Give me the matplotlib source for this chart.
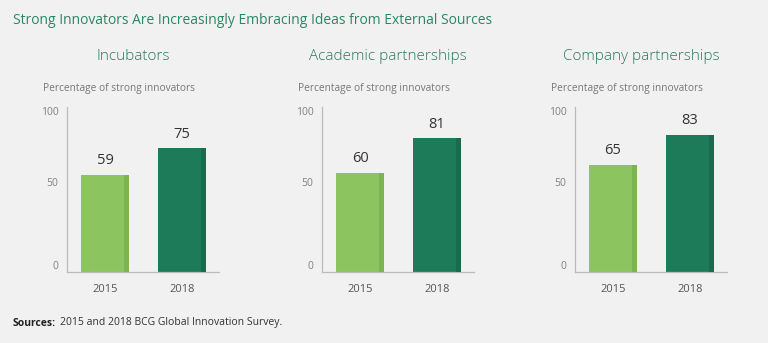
import matplotlib.pyplot as plt
from matplotlib.patches import Rectangle

# Share of strong innovators using each external idea source
panels = ['Incubators', 'Academic partnerships', 'Company partnerships']
years = ['2015', '2018']
values_2015 = [59, 60, 65]
values_2018 = [75, 81, 83]

light_green = '#8cc560'
dark_green = '#1e7b59'
edge_light = '#7db352'
edge_dark = '#1b6a4e'
bg = '#f1f1f1'

plt.rcParams['font.family'] = ['Open Sans', 'DejaVu Sans']

W, H = 768, 343
fig = plt.figure(figsize=(W / 100, H / 100), dpi=100, facecolor=bg)

fig.text(13 / W, 1 - 20 / H, 'Strong Innovators Are Increasingly Embracing Ideas from External Sources',
         color='#2a8763', fontsize=10, ha='left', va='center')

spine_x = [67, 322, 575]
for i, name in enumerate(panels):
    left = spine_x[i]
    ax = fig.add_axes([left / W, (H - 272) / H, 152 / W, (272 - 107) / H])
    ax.set_facecolor(bg)
    vals = [values_2015[i], values_2018[i]]
    bars = ax.bar([0, 1], vals, width=0.62, color=[light_green, dark_green], zorder=2)
    # darker strip along the right side of each bar
    for b, c in zip(bars, [edge_light, edge_dark]):
        ax.add_patch(Rectangle((b.get_x() + b.get_width() - 0.065, 0), 0.065, b.get_height(),
                               color=c, zorder=3, lw=0))
        ax.text(b.get_x() + b.get_width() / 2, b.get_height() + 4, f'{b.get_height():.0f}',
                ha='center', va='bottom', fontsize=10.5, color='#333333')
    ax.set_xlim(-0.494, 1.48)
    ax.set_ylim(0, 100)
    ax.set_yticks([0, 50, 100])
    ax.set_xticks([0, 1])
    ax.set_xticklabels(years)
    ax.tick_params(axis='y', length=0, pad=6, labelsize=7.5, labelcolor='#808080')
    ax.tick_params(axis='x', length=0, pad=9, labelsize=8, labelcolor='#555555')
    for lbl in ax.get_yticklabels():
        lbl.set_va('top' if lbl.get_text() == '100' else 'bottom')
    for s in ['top', 'right']:
        ax.spines[s].set_visible(False)
    for s in ['left', 'bottom']:
        ax.spines[s].set_color('#bbbbbb')
        ax.spines[s].set_linewidth(0.9)

    fig.text((left + 66) / W, 1 - 57 / H, name, ha='center', va='center',
             fontsize=11, color='#2a7a5e', fontweight='light')
    fig.text((left - 24) / W, 1 - 89 / H, 'Percentage of strong innovators',
             ha='left', va='center', fontsize=7.3, color='#777777')

# source line: bold lead-in followed by plain text
src = fig.text(13 / W, 1 - 323 / H, 'Sources:', fontsize=7.5, ha='left', va='center',
               color='#222222', fontweight='bold')
fig.canvas.draw()
bb = src.get_window_extent(fig.canvas.get_renderer())
fig.text((bb.x1 + 4) / W, 1 - 323 / H, '2015 and 2018 BCG Global Innovation Survey.',
         fontsize=7.5, ha='left', va='center', color='#333333')

fig.savefig('out.png', dpi=100, facecolor=bg)
